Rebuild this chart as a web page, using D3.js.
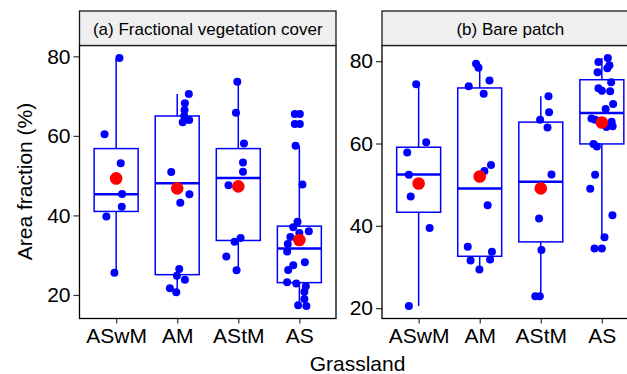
<!DOCTYPE html>
<html>
<head>
<meta charset="utf-8">
<script src="https://cdn.jsdelivr.net/npm/d3@7"></script>
<style>
  body { margin: 0; background: #fff; }
  text { font-family: Arial, "Liberation Sans", sans-serif; fill: #000; }
</style>
</head>
<body>
<svg></svg>
<script>
const categories = ['ASwM', 'AM', 'AStM', 'AS'];
const panelTitles = ['(a) Fractional vegetation cover', '(b) Bare patch'];
const yTicks = [20, 40, 60, 80];

// (a) fractional vegetation cover: site values, jitter (in category units), box stats, means
const fvcValues = [
  [79.6, 60.4, 53.1, 45.4, 42.2, 39.7, 25.6],
  [70.5, 68.2, 66.5, 65.0, 63.4, 64.0, 50.9, 45.3, 43.2, 26.5, 24.8, 23.8, 21.7, 20.7],
  [73.6, 65.8, 58.1, 53.3, 51.0, 47.6, 34.3, 33.4, 29.7, 26.2],
  [65.5, 65.5, 63.0, 63.0, 57.5, 47.8, 38.4, 37.0, 36.0, 35.6, 34.6, 32.8, 30.9, 28.2, 27.5, 26.3, 23.2, 22.9, 22.2, 20.8, 19.0, 17.4, 17.2]
];
const fvcJitter = [
  [0.054, -0.19, 0.075, 0.098, 0.092, -0.16, -0.028],
  [0.19, 0.126, 0.12, 0.115, 0.09, 0.196, -0.098, 0.2, 0.05, 0.033, -0.005, 0.126, -0.12, -0.016],
  [-0.016, -0.038, 0.093, 0.077, 0.077, -0.16, 0.038, -0.061, -0.196, -0.028],
  [-0.074, 0.008, -0.074, 0.008, -0.062, 0.05, -0.03, -0.1, 0.155, 0.0, -0.147, -0.19, -0.2, 0.09, -0.1, -0.183, -0.2, -0.05, 0.106, 0.082, 0.082, -0.02, 0.115]
];
// [lower whisker, q1, median, q3, upper whisker]
const fvcBox = [
  [25.6, 41.0, 45.3, 56.8, 79.6],
  [20.7, 25.1, 48.1, 65.0, 70.5],
  [26.2, 33.7, 49.4, 56.8, 73.6],
  [17.2, 23.1, 31.7, 37.3, 57.5]
];
const fvcMean = [49.3, 46.8, 47.3, 33.8];

// (b) bare patch
const bareValues = [
  [74.4, 60.3, 57.8, 52.4, 47.1, 39.5, 20.5],
  [79.4, 78.4, 75.3, 73.9, 72.1, 54.8, 53.3, 45.0, 34.9, 33.7, 31.8, 31.6, 29.4],
  [71.5, 67.6, 65.8, 63.9, 52.5, 48.9, 41.8, 34.1, 22.9, 22.9],
  [80.8, 79.8, 79.0, 78.3, 77.3, 74.9, 73.4, 72.8, 72.7, 69.6, 68.4, 66.1, 65.8, 65.3, 64.2, 64.0, 59.9, 59.3, 52.4, 49.0, 42.6, 37.2, 34.5, 34.5]
];
const bareJitter = [
  [-0.04, 0.124, -0.187, -0.16, -0.13, 0.18, -0.16],
  [-0.06, -0.02, 0.16, -0.18, 0.065, 0.185, 0.077, 0.13, -0.196, 0.2, 0.17, -0.15, -0.005],
  [0.126, 0.136, -0.011, 0.11, 0.175, 0.0, -0.028, 0.011, -0.09, -0.016],
  [0.098, -0.056, 0.124, 0.09, -0.07, 0.152, -0.056, 0.0, 0.136, 0.185, 0.062, -0.17, -0.11, 0.16, 0.177, 0.075, -0.137, -0.082, -0.11, -0.19, 0.173, 0.043, -0.12, 0.0]
];
const bareBox = [
  [20.5, 43.3, 52.5, 59.1, 74.4],
  [29.4, 32.6, 49.1, 73.5, 79.4],
  [22.9, 36.1, 50.7, 65.2, 71.5],
  [37.2, 59.9, 67.4, 75.5, 80.8]
];
const bareMean = [50.3, 52.0, 49.1, 65.1];

const run = () => {
  const svgWidth = 627;
  const svgHeight = 374;
  const svg = d3.select('svg')
      .attr('width', svgWidth)
      .attr('height', svgHeight);

  const panelW = 256.5;
  const plotTop = 45.5;
  const plotBottom = 318.5;
  const stripTop = 11;
  const blue = '#0000ff';

  const panels = [
    { left: 79.5, title: panelTitles[0], values: fvcValues, jitter: fvcJitter, box: fvcBox, mean: fvcMean },
    { left: 382, title: panelTitles[1], values: bareValues, jitter: bareJitter, box: bareBox, mean: bareMean }
  ];

  panels.forEach(p => {
    const g = svg.append('g');

    const x = d3.scalePoint()
      .domain(categories)
      .range([p.left, p.left + panelW])
      .padding(0.6);                            // ggplot-like discrete expansion
    const step = x.step();

    const ext = d3.extent(p.values.flat().concat(p.box.flat()));
    const pad = (ext[1] - ext[0]) * 0.05;
    const y = d3.scaleLinear()
      .domain([ext[0] - pad, ext[1] + pad])
      .range([plotBottom, plotTop]);

    // panel background
    g.append('rect')
      .attr('x', p.left).attr('y', plotTop)
      .attr('width', panelW).attr('height', plotBottom - plotTop)
      .attr('fill', '#fff');

    // axes
    const yAxis = g.append('g')
      .attr('transform', `translate(${p.left},0)`)
      .call(d3.axisLeft(y).tickValues(yTicks).tickSize(6).tickPadding(3));
    const xAxis = g.append('g')
      .attr('transform', `translate(0,${plotBottom})`)
      .call(d3.axisBottom(x).tickSize(5).tickPadding(5));
    [yAxis, xAxis].forEach(a => {
      a.select('.domain').remove();
      a.selectAll('.tick line').attr('stroke', '#333').attr('stroke-width', 1.2);
      a.selectAll('.tick text').attr('font-size', 21).attr('fill', '#000');
    });

    // boxes
    const box = g.selectAll('.box')
      .data(p.box)
      .enter()
      .append('g')
      .attr('class', 'box');
    const bw = step * 0.72;
    box.append('line')
      .attr('x1', (d, i) => x(categories[i])).attr('x2', (d, i) => x(categories[i]))
      .attr('y1', d => y(d[0])).attr('y2', d => y(d[1]))
      .attr('stroke', blue).attr('stroke-width', 1.5);
    box.append('line')
      .attr('x1', (d, i) => x(categories[i])).attr('x2', (d, i) => x(categories[i]))
      .attr('y1', d => y(d[3])).attr('y2', d => y(d[4]))
      .attr('stroke', blue).attr('stroke-width', 1.5);
    box.append('rect')
      .attr('x', (d, i) => x(categories[i]) - bw / 2)
      .attr('y', d => y(d[3]))
      .attr('width', bw)
      .attr('height', d => y(d[1]) - y(d[3]))
      .attr('fill', 'none')
      .attr('stroke', blue).attr('stroke-width', 1.5);
    box.append('line')
      .attr('x1', (d, i) => x(categories[i]) - bw / 2)
      .attr('x2', (d, i) => x(categories[i]) + bw / 2)
      .attr('y1', d => y(d[2])).attr('y2', d => y(d[2]))
      .attr('stroke', blue).attr('stroke-width', 2.5);

    // jittered site points
    const pts = p.values.flatMap((vals, i) =>
      vals.map((v, j) => ({ cat: categories[i], v, jit: p.jitter[i][j] })));
    g.selectAll('.pt')
      .data(pts)
      .enter()
      .append('circle')
      .attr('class', 'pt')
      .attr('cx', d => x(d.cat) + d.jit * step)
      .attr('cy', d => y(d.v))
      .attr('r', 4)
      .attr('fill', blue);

    // means
    g.selectAll('.mean')
      .data(p.mean)
      .enter()
      .append('circle')
      .attr('class', 'mean')
      .attr('cx', (d, i) => x(categories[i]))
      .attr('cy', d => y(d))
      .attr('r', 6.3)
      .attr('fill', '#ff0000');

    // panel border
    g.append('rect')
      .attr('x', p.left).attr('y', plotTop)
      .attr('width', panelW).attr('height', plotBottom - plotTop)
      .attr('fill', 'none')
      .attr('stroke', '#000').attr('stroke-width', 1.3);

    // strip
    g.append('rect')
      .attr('x', p.left).attr('y', stripTop)
      .attr('width', panelW).attr('height', plotTop - stripTop)
      .attr('fill', '#efefef')
      .attr('stroke', '#1a1a1a').attr('stroke-width', 1.3);
    g.append('text')
      .attr('x', p.left + panelW / 2)
      .attr('y', 35)
      .attr('text-anchor', 'middle')
      .attr('font-size', 17)
      .text(p.title);
  });

  // axis titles
  svg.append('text')
    .attr('transform', 'translate(31.5,181.5) rotate(-90)')
    .attr('text-anchor', 'middle')
    .attr('font-size', 21)
    .text('Area fraction (%)');
  svg.append('text')
    .attr('x', 357.5)
    .attr('y', 371)
    .attr('text-anchor', 'middle')
    .attr('font-size', 21)
    .text('Grassland');
};

window.app = { run };
window.app.run();
</script>
</body>
</html>
